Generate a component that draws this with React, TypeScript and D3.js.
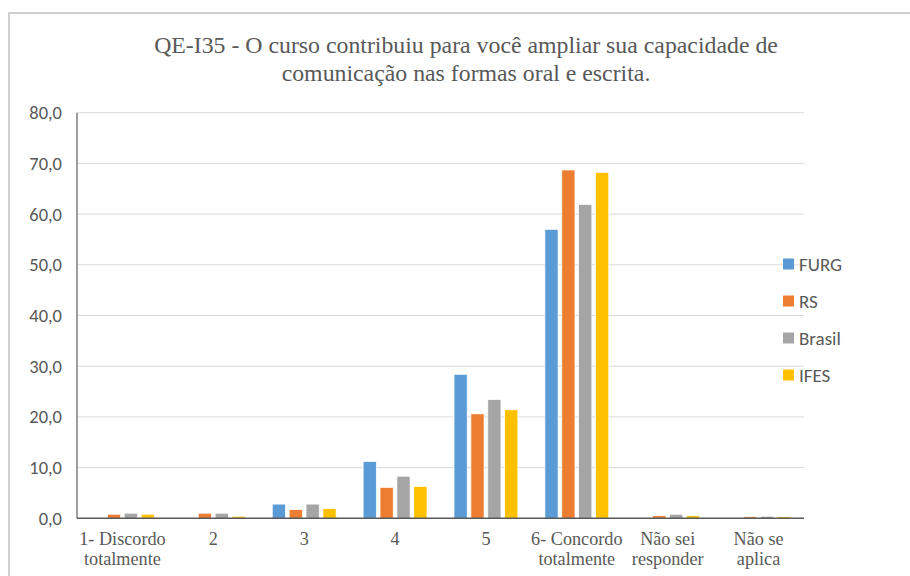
import React from "react";
import * as d3 from "d3";

const categories = [
  "1- Discordo totalmente",
  "2",
  "3",
  "4",
  "5",
  "6- Concordo totalmente",
  "Não sei responder",
  "Não se aplica",
];
const categoryLines = [
  ["1- Discordo", "totalmente"],
  ["2"],
  ["3"],
  ["4"],
  ["5"],
  ["6- Concordo", "totalmente"],
  ["Não sei", "responder"],
  ["Não se", "aplica"],
];
const seriesNames = ["FURG", "RS", "Brasil", "IFES"];
const seriesColors = ["#5b9bd5", "#ed7d31", "#a5a5a5", "#ffc000"];
const furg = [0, 0, 2.8, 11.2, 28.4, 57.0, 0, 0];
const rs = [0.8, 1.0, 1.7, 6.1, 20.6, 68.7, 0.5, 0.3];
const brasil = [1.0, 1.0, 2.8, 8.3, 23.4, 61.9, 0.8, 0.4];
const ifes = [0.8, 0.4, 1.9, 6.3, 21.4, 68.2, 0.5, 0.3];
const seriesValues = [furg, rs, brasil, ifes];
const yTicks = [0, 10, 20, 30, 40, 50, 60, 70, 80];
const titleLines = [
  "QE-I35 - O curso contribuiu para você ampliar sua capacidade de",
  "comunicação nas formas oral e escrita.",
];

export default function App() {
  const W = 910;
  const H = 576;
  const left = 77;
  const right = 804;
  const top = 112.7;
  const bottom = 518.3;

  const x = d3.scaleBand<string>().domain(categories).range([left, right]).paddingInner(0).paddingOuter(0);
  const inner = d3
    .scaleBand<string>()
    .domain(seriesNames)
    .range([0, x.bandwidth()])
    .paddingInner(0.22)
    .paddingOuter(0.8);
  const y = d3.scaleLinear().domain([0, 80]).range([bottom, top]);
  const fmt = (v: number) => d3.format(".1f")(v).replace(".", ",");

  const sans = "Calibri, Carlito, 'Open Sans', 'Liberation Sans', sans-serif";
  const serif = "'Liberation Serif', 'Times New Roman', serif";

  return (
    <svg
      width={W}
      height={H}
      style={{ position: "absolute", left: 0, top: 0, background: "#fff" }}
    >
      <rect x={9} y={13} width={W + 10} height={H + 10} fill="#fff" stroke="#d0d0d0" strokeWidth={2} />
      {titleLines.map((t, i) => (
        <text
          key={i}
          x={466}
          y={53 + i * 28}
          textAnchor="middle"
          fontFamily={serif}
          fontSize={23.8}
          fill="#595959"
        >
          {t}
        </text>
      ))}
      {yTicks.map((t) => (
        <g key={t}>
          {t > 0 && (
            <line x1={left} x2={right} y1={y(t)} y2={y(t)} stroke="#d9d9d9" strokeWidth={1} />
          )}
          <text
            x={62}
            y={y(t)}
            dy="0.35em"
            textAnchor="end"
            fontFamily={sans}
            fontSize={18.5}
            fill="#595959"
          >
            {fmt(t)}
          </text>
        </g>
      ))}
      {seriesNames.map((s, si) =>
        categories.map((c, ci) => {
          const v = seriesValues[si][ci];
          if (v <= 0) return null;
          return (
            <rect
              key={s + c}
              x={(x(c) as number) + (inner(s) as number)}
              y={y(v)}
              width={inner.bandwidth()}
              height={bottom - y(v)}
              fill={seriesColors[si]}
              stroke="#fff"
              strokeWidth={0.7}
            />
          );
        })
      )}
      <line x1={left} x2={left} y1={top} y2={bottom} stroke="#7f7f7f" strokeWidth={1.5} />
      <line x1={left} x2={right} y1={bottom} y2={bottom} stroke="#595959" strokeWidth={1.5} />
      {categories.map((c, ci) => (
        <text
          key={c}
          x={(x(c) as number) + x.bandwidth() / 2}
          y={545}
          textAnchor="middle"
          fontFamily={serif}
          fontSize={18.2}
          fill="#595959"
        >
          {categoryLines[ci].map((l, li) => (
            <tspan key={li} x={(x(c) as number) + x.bandwidth() / 2} dy={li === 0 ? 0 : 20}>
              {l}
            </tspan>
          ))}
        </text>
      ))}
      {seriesNames.map((s, si) => (
        <g key={s} transform={`translate(783, ${264 + si * 37})`}>
          <rect x={0} y={-5.5} width={11} height={11} fill={seriesColors[si]} />
          <text x={16} y={0} dy="0.35em" fontFamily={sans} fontSize={19} fill="#595959">
            {s}
          </text>
        </g>
      ))}
    </svg>
  );
}
